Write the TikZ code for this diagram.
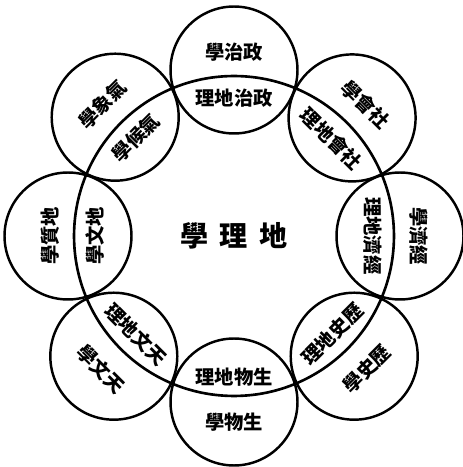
\documentclass[tikz,border=0pt]{standalone}
\usepackage{fontspec}
\newfontfamily\cjk{Noto Sans CJK TC}
\usetikzlibrary{calc}

\tikzset{
    ring/.style={circle, draw, line width=1.5pt, inner sep=0pt, minimum size=6.4cm},
    field/.style={circle, draw, line width=1.4pt, inner sep=0pt, minimum size=2.54cm},
    label/.style={inner sep=0pt, font=\cjk\bfseries\fontsize{11}{11}\selectfont},
    core/.style={inner sep=0pt, font=\cjk\bfseries\fontsize{16}{16}\selectfont},
}

\begin{document}
\begin{tikzpicture}[x=0.02cm, y=0.02cm]

    \useasboundingbox (0,0) rectangle (463,467);

    % Nodes

    \node[ring]    (geo)     at (234,231) {}; %
    \node[core]    (geotxt)  at (geo.center) {學\hspace{0.22cm}理\hspace{0.22cm}地}; %

    % Outer circles
    \node[field] (pol)  at ($(geo.center)+(90:166)$)  {}; %
    \node[field] (soc)  at ($(geo.center)+(45:167)$)  {}; %
    \node[field] (eco)  at ($(geo.center)+(0:166)$)   {}; %
    \node[field] (his)  at ($(geo.center)+(-45:170)$) {}; %
    \node[field] (bio)  at ($(geo.center)+(-90:166)$) {}; %
    \node[field] (ast)  at ($(geo.center)+(-135:170)$) {}; %
    \node[field] (gel)  at ($(geo.center)+(180:166)$) {}; %
    \node[field] (met)  at ($(geo.center)+(135:168)$) {}; %

    % Outer labels
    \node[label, rotate=0]    (poltxt) at ($(geo.center)+(90:184)$)   {學治政}; %
    \node[label, rotate=-45]  (soctxt) at ($(geo.center)+(45:186)$)   {學會社}; %
    \node[label, rotate=-90]  (ecotxt) at ($(geo.center)+(0:185)$)    {學濟經}; %
    \node[label, rotate=45]   (histxt) at ($(geo.center)+(-45:188)$)  {學史歷}; %
    \node[label, rotate=0]    (biotxt) at ($(geo.center)+(-90:186)$)  {學物生}; %
    \node[label, rotate=-45]  (asttxt) at ($(geo.center)+(-135:188)$) {學文天}; %
    \node[label, rotate=90]   (geltxt) at ($(geo.center)+(180:184)$)  {學質地}; %
    \node[label, rotate=45]   (mettxt) at ($(geo.center)+(135:186)$)  {學象氣}; %

    % Inner labels
    \node[label, rotate=0]    (polin) at ($(geo.center)+(90:138)$)   {理地治政}; %
    \node[label, rotate=-45]  (socin) at ($(geo.center)+(45:138)$)   {理地會社}; %
    \node[label, rotate=-90]  (ecoin) at ($(geo.center)+(0:139)$)    {理地濟經}; %
    \node[label, rotate=45]   (hisin) at ($(geo.center)+(-45:139)$)  {理地史歷}; %
    \node[label, rotate=0]    (bioin) at ($(geo.center)+(-90:141)$)  {理地物生}; %
    \node[label, rotate=-45]  (astin) at ($(geo.center)+(-135:139)$) {理地文天}; %
    \node[label, rotate=90]   (gelin) at ($(geo.center)+(180:139)$)  {學文地}; %
    \node[label, rotate=45]   (metin) at ($(geo.center)+(135:139)$)  {學候氣}; %

\end{tikzpicture}
\end{document}
